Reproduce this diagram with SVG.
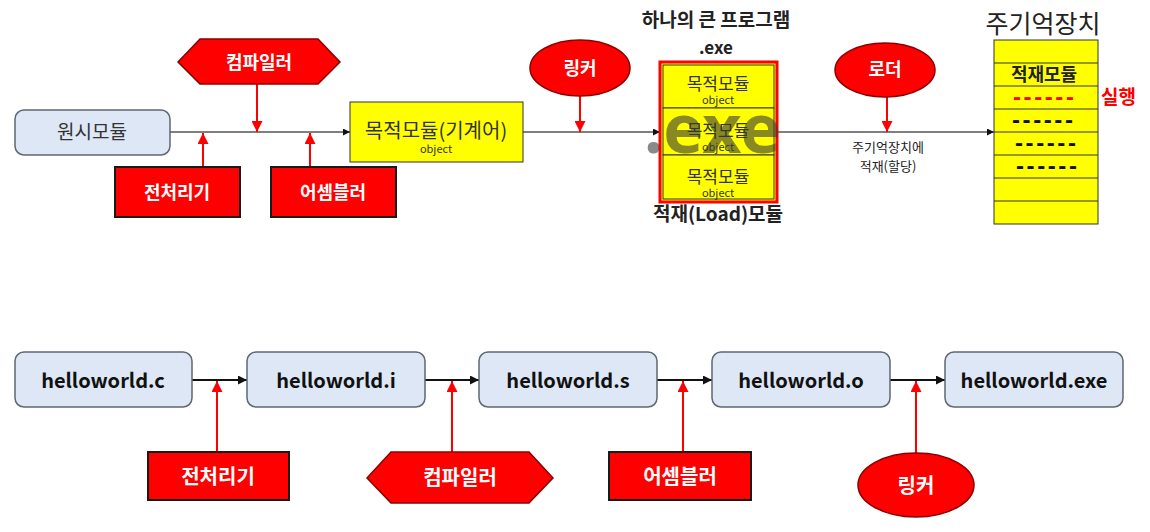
<svg xmlns="http://www.w3.org/2000/svg" width="1150" height="532" viewBox="0 0 1150 532">
<style>
.k{font-family:"Noto Sans CJK KR","Noto Sans",sans-serif}
.lbl{font-family:"Noto Sans CJK KR",sans-serif;font-weight:bold;fill:#fff;font-size:18px;text-anchor:middle;dominant-baseline:central}
.lbl2{font-family:"Noto Sans CJK KR",sans-serif;font-weight:bold;fill:#fff;font-size:20px;text-anchor:middle;dominant-baseline:central}
.rbox{fill:#ff0000;stroke:#1a1a1a;stroke-width:2}
.rshape{fill:#ff0000;stroke:#8a0000;stroke-width:1.5}
.bbox{fill:#dde7f5;stroke:#5f6770;stroke-width:1.5}
.ybox{fill:#ffff00;stroke:#333;stroke-width:1}
.ln{stroke:#555;stroke-width:1.5;fill:none}
.bl{stroke:#111;stroke-width:2;fill:none}
.ra{stroke:#ff0000;stroke-width:2;fill:none}
.mt{font-family:"Noto Sans CJK KR",sans-serif;font-size:17px;fill:#333;text-anchor:middle}
.ob{font-family:"Noto Sans CJK KR",sans-serif;font-size:11px;fill:#333;text-anchor:middle}
.hw{font-family:"Noto Sans CJK KR","Noto Sans",sans-serif;font-weight:bold;font-size:20px;fill:#111;text-anchor:middle;dominant-baseline:central}
.dash{font-family:"Liberation Sans",sans-serif;font-weight:bold;font-size:24px;letter-spacing:2.6px}
</style>
<defs>
<marker id="ah" viewBox="0 0 10 10" refX="10" refY="5" markerWidth="7" markerHeight="7" orient="auto" markerUnits="userSpaceOnUse"><path d="M0,0 L10,5 L0,10 z" fill="#111"/></marker>
<marker id="ahb" viewBox="0 0 10 10" refX="10" refY="5" markerWidth="9" markerHeight="9" orient="auto" markerUnits="userSpaceOnUse"><path d="M0,0 L10,5 L0,10 z" fill="#111"/></marker>
<marker id="ahr" viewBox="0 0 10 10" refX="10" refY="5" markerWidth="11" markerHeight="11" orient="auto" markerUnits="userSpaceOnUse"><path d="M0,0 L10,5 L0,10 z" fill="#ff0000"/></marker>
</defs>

<g id="connectors">
<line class="ln" x1="170" y1="132" x2="350" y2="132" marker-end="url(#ah)"/>
<line class="ln" x1="523" y1="132" x2="660" y2="132" marker-end="url(#ah)"/>
<line class="ln" x1="777" y1="132" x2="994" y2="132" marker-end="url(#ah)"/>
<line class="ra" x1="257" y1="84" x2="257" y2="132" marker-end="url(#ahr)"/>
<line class="ra" x1="203" y1="167" x2="203" y2="133" marker-end="url(#ahr)"/>
<line class="ra" x1="310" y1="167" x2="310" y2="133" marker-end="url(#ahr)"/>
<line class="ra" x1="580" y1="96" x2="580" y2="132" marker-end="url(#ahr)"/>
<line class="ra" x1="887" y1="97" x2="887" y2="132" marker-end="url(#ahr)"/>

<line class="bl" x1="192" y1="380" x2="247" y2="380" marker-end="url(#ahb)"/>
<line class="bl" x1="425" y1="380" x2="479" y2="380" marker-end="url(#ahb)"/>
<line class="bl" x1="657" y1="380" x2="712" y2="380" marker-end="url(#ahb)"/>
<line class="bl" x1="890" y1="380" x2="945" y2="380" marker-end="url(#ahb)"/>
<line class="ra" x1="217" y1="452" x2="217" y2="381" marker-end="url(#ahr)"/>
<line class="ra" x1="452" y1="452" x2="452" y2="381" marker-end="url(#ahr)"/>
<line class="ra" x1="683" y1="452" x2="683" y2="381" marker-end="url(#ahr)"/>
<line class="ra" x1="916" y1="453" x2="916" y2="381" marker-end="url(#ahr)"/>
</g>

<g id="src">
<rect class="bbox" x="15" y="110" width="155" height="45" rx="9"/>
<text class="k" x="92" y="139" font-size="19" fill="#333" text-anchor="middle">원시모듈</text>
</g>
<g id="compiler1">
<polygon class="rshape" points="178,62 200,39 318,39 340,62 318,84 200,84"/>
<text class="lbl" x="259" y="61">컴파일러</text>
</g>
<g id="pre1">
<rect class="rbox" x="115" y="167" width="125" height="50"/>
<text class="lbl" x="177" y="191">전처리기</text>
</g>
<g id="asm1">
<rect class="rbox" x="271" y="167" width="125" height="50"/>
<text class="lbl" x="333" y="191">어셈블러</text>
</g>
<g id="obj1">
<rect class="ybox" x="350" y="102" width="173" height="60"/>
<text class="k" x="436" y="138" font-size="20" fill="#333" text-anchor="middle">목적모듈(기계어)</text>
<text class="ob" x="436" y="153">object</text>
</g>
<g id="linker1">
<ellipse class="rshape" cx="580" cy="68" rx="50" ry="28"/>
<text class="lbl" x="580" y="67">링커</text>
</g>
<g id="exe">
<text class="k" x="716" y="27" font-size="19" font-weight="bold" fill="#222" text-anchor="middle">하나의 큰 프로그램</text>
<text class="k" x="716" y="54" font-size="17" font-weight="bold" fill="#222" text-anchor="middle">.exe</text>
<rect x="660" y="62" width="117" height="140" fill="#ffff00" stroke="#ff0000" stroke-width="3"/>
<rect class="ybox" x="663" y="65" width="111" height="43"/>
<rect class="ybox" x="663" y="108" width="111" height="47"/>
<rect class="ybox" x="663" y="155" width="111" height="44"/>
<text class="mt" x="718" y="90">목적모듈</text>
<text class="ob" x="718" y="104">object</text>
<text class="mt" x="718" y="137">목적모듈</text>
<text class="ob" x="718" y="151">object</text>
<text class="mt" x="718" y="183">목적모듈</text>
<text class="ob" x="718" y="197">object</text>
<text x="644" y="153" font-family="Noto Sans,sans-serif" font-weight="bold" font-size="68" fill="#3a3a3a" fill-opacity="0.6">.exe</text>
<text class="k" x="718" y="221" font-size="19" font-weight="bold" fill="#222" text-anchor="middle">적재(Load)모듈</text>
</g>
<g id="loader">
<ellipse class="rshape" cx="885" cy="70" rx="50" ry="27"/>
<text class="lbl" x="885" y="68">로더</text>
<text class="k" x="888" y="152" font-size="13" fill="#222" text-anchor="middle">주기억장치에</text>
<text class="k" x="888" y="171" font-size="13" fill="#222" text-anchor="middle">적재(할당)</text>
</g>
<g id="memory">
<text class="k" x="1043" y="33" font-size="25" fill="#222" text-anchor="middle">주기억장치</text>
<rect class="ybox" x="994" y="40" width="104" height="184"/>
<line stroke="#333" x1="994" y1="63" x2="1098" y2="63"/>
<line stroke="#333" x1="994" y1="86" x2="1098" y2="86"/>
<line stroke="#333" x1="994" y1="109" x2="1098" y2="109"/>
<line stroke="#333" x1="994" y1="132" x2="1098" y2="132"/>
<line stroke="#333" x1="994" y1="155" x2="1098" y2="155"/>
<line stroke="#333" x1="994" y1="178" x2="1098" y2="178"/>
<line stroke="#333" x1="994" y1="201" x2="1098" y2="201"/>
<text class="k" x="1044" y="81" font-size="18" font-weight="bold" fill="#222" text-anchor="middle">적재모듈</text>
<text class="dash" x="1013" y="105" fill="#ff0000">------</text>
<text class="dash" x="1012" y="128" fill="#111">------</text>
<text class="dash" x="1015" y="151" fill="#111">------</text>
<text class="dash" x="1016" y="174" fill="#111">------</text>
<text class="k" x="1101" y="104" font-size="19" font-weight="bold" fill="#ff0000">실행</text>
</g>

<g id="hw_c"><rect class="bbox" x="15" y="352" width="177" height="55" rx="9"/><text class="hw" x="103" y="379">helloworld.c</text></g>
<g id="hw_i"><rect class="bbox" x="247" y="352" width="178" height="55" rx="9"/><text class="hw" x="336" y="379">helloworld.i</text></g>
<g id="hw_s"><rect class="bbox" x="479" y="352" width="178" height="55" rx="9"/><text class="hw" x="568" y="379">helloworld.s</text></g>
<g id="hw_o"><rect class="bbox" x="712" y="352" width="178" height="55" rx="9"/><text class="hw" x="801" y="379">helloworld.o</text></g>
<g id="hw_exe"><rect class="bbox" x="945" y="352" width="178" height="55" rx="9"/><text class="hw" x="1034" y="379">helloworld.exe</text></g>

<g id="pre2"><rect class="rbox" x="148" y="452" width="141" height="48"/><text class="lbl2" x="218" y="475">전처리기</text></g>
<g id="compiler2"><polygon class="rshape" points="367,478 391,452 529,452 553,478 529,503 391,503"/><text class="lbl2" x="460" y="476">컴파일러</text></g>
<g id="asm2"><rect class="rbox" x="609" y="452" width="142" height="48"/><text class="lbl2" x="680" y="475">어셈블러</text></g>
<g id="linker2"><ellipse class="rshape" cx="916" cy="485" rx="58" ry="32"/><text class="lbl2" x="916" y="484">링커</text></g>
</svg>
